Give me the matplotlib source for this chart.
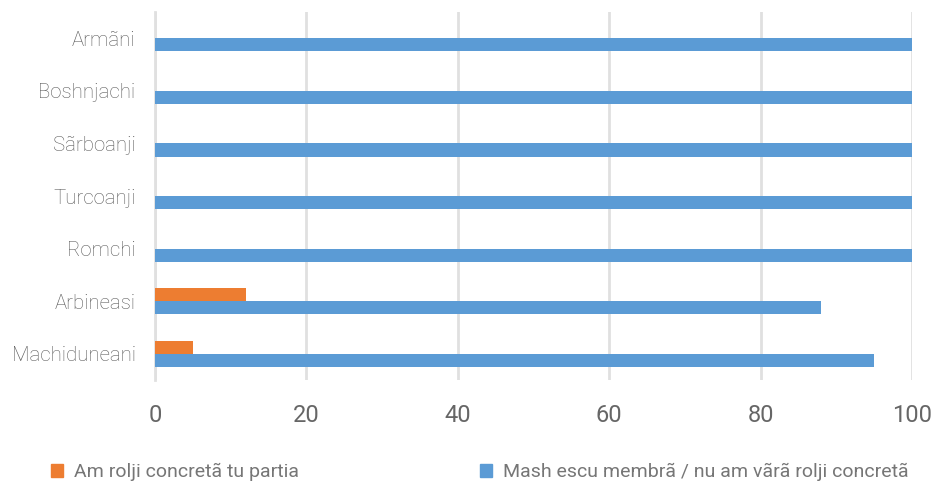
import matplotlib
matplotlib.use('Agg')
import matplotlib.pyplot as plt
from matplotlib.patches import Patch
import numpy as np

plt.rcParams['font.family'] = ['Roboto', 'DejaVu Sans']

# data, top to bottom as in the chart
categories = ['Armãni', 'Boshnjachi', 'Sãrboanji', 'Turcoanji', 'Romchi', 'Arbineasi', 'Machiduneani']
rolji = [0, 0, 0, 0, 0, 12, 5]
membra = [100, 100, 100, 100, 100, 88, 95]
series_names = ['Am rolji concretã tu partia', 'Mash escu membrã / nu am vãrã rolji concretã']
xticks = [0, 20, 40, 60, 80, 100]

orange = '#ED7D31'
blue = '#5B9BD5'
grid_col = '#E0E0E0'
txt_col = '#595959'

fig = plt.figure(figsize=(9.34, 4.84), dpi=100)
ax = fig.add_axes([155/934, 1 - 380/484, (912-155)/934, (380-12)/484])

y = np.arange(len(categories))
h = 0.25
ax.barh(y - h/2, rolji, height=h, color=orange, zorder=3)
ax.barh(y + h/2, membra, height=h, color=blue, zorder=3)

ax.set_ylim(len(categories) - 0.5, -0.5)
ax.set_xlim(0, 100)
ax.set_yticks(y)
ax.set_yticklabels(categories, fontsize=14.7, color=txt_col, fontweight='light')
ax.tick_params(axis='y', pad=14)
ax.set_xticks(xticks)
ax.set_xticklabels([str(t) for t in xticks], fontsize=17, color='#666666')
ax.tick_params(axis='both', length=0)
ax.tick_params(axis='x', pad=17.5)

ax.grid(axis='x', color=grid_col, linewidth=2, zorder=0)
for s in ['top', 'right', 'bottom']:
    ax.spines[s].set_visible(False)
ax.spines['left'].set_color(grid_col)
ax.spines['left'].set_linewidth(2)

handles = [Patch(color=orange), Patch(color=blue)]
leg = fig.legend(handles, series_names, loc='center left', bbox_to_anchor=(33/934, 1 - 472/484),
                 ncol=2, frameon=False, fontsize=14, handlelength=0.65, handleheight=0.65,
                 handletextpad=0.55, columnspacing=9.3, labelcolor='#767676')

fig.savefig('out.png', dpi=100)
